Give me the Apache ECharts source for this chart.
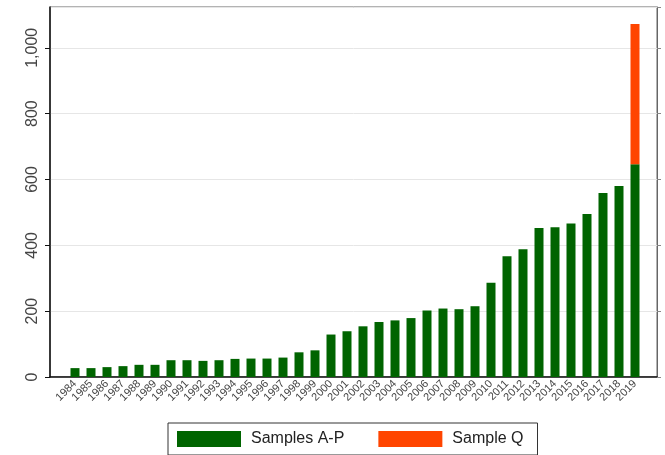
<!DOCTYPE html>
<html>
<head>
<meta charset="utf-8">
<script src="https://cdn.jsdelivr.net/npm/echarts@6/dist/echarts.min.js"></script>
<style>
html,body{margin:0;padding:0;background:#fff;}
#chart{width:665px;height:455px;}
</style>
</head>
<body>
<div id="chart"></div>
<script>
// 年份
var years = ['1984','1985','1986','1987','1988','1989','1990','1991','1992','1993','1994','1995',
    '1996','1997','1998','1999','2000','2001','2002','2003','2004','2005','2006','2007',
    '2008','2009','2010','2011','2012','2013','2014','2015','2016','2017','2018','2019'];
// Samples A-P
var samplesAP = [27,27,30,33,37,37,51,51,49,51,55,56,
    56,59,75,81,129,139,154,167,172,179,202,208,
    206,215,286,367,388,453,455,466,495,559,580,646];
// Sample Q (only 2019)
var sampleQ = [null,null,null,null,null,null,null,null,null,null,null,null,
    null,null,null,null,null,null,null,null,null,null,null,null,
    null,null,null,null,null,null,null,null,null,null,null,426];
var yTicks = [0,200,400,600,800,1000];

var font = '"Liberation Sans", Arial, sans-serif';
var yMax = 1124;

var chart = echarts.init(document.getElementById('chart'));
var option = {
    animation: false,
    textStyle: {fontFamily: font},
    legend: {
        left: 168, top: 423,
        data: ['Samples A-P','Sample Q'],
        icon: 'rect', itemWidth: 64, itemHeight: 16, itemGap: 34,
        padding: [8, 14, 8, 9],
        borderColor: '#333', borderWidth: 1,
        textStyle: {fontSize: 16, color: '#222', fontFamily: font, padding: [0,0,0,5]}
    },
    grid: [
        {left: 50, right: 8, top: 7, bottom: 78, show: true, borderColor: '#666', borderWidth: 1},
        {left: 67, right: 22, top: 7, bottom: 78}
    ],
    xAxis: [
        {
            gridIndex: 0, type: 'value', min: 0, max: 1,
            axisLine: {show: true, lineStyle: {color: '#111', width: 1.5}},
            axisTick: {show: false}, axisLabel: {show: false}, splitLine: {show: false}
        },
        {
            gridIndex: 1, type: 'category', data: years,
            axisLine: {show: false}, axisTick: {show: false},
            axisLabel: {interval: 0, rotate: 45, fontSize: 11, color: '#444', margin: 5, fontFamily: font}
        }
    ],
    yAxis: [
        {
            gridIndex: 0, type: 'value', min: 0, max: yMax, interval: 200,
            axisLine: {show: true, lineStyle: {color: '#111', width: 1.5}},
            axisTick: {show: true, length: 5, lineStyle: {color: '#111'}},
            splitLine: {show: true, lineStyle: {color: '#e6e6e6', width: 1}},
            axisLabel: {
                rotate: 90, fontSize: 16, color: '#444', margin: 9, showMaxLabel: false, fontFamily: font,
                formatter: function (v) { return yTicks.indexOf(v) >= 0 ? v.toLocaleString('en-US') : ''; }
            }
        },
        {
            gridIndex: 0, type: 'value', min: 0, max: yMax, interval: 200, position: 'right',
            axisLine: {show: true, lineStyle: {color: '#666', width: 1}},
            axisTick: {show: true, length: 4, lineStyle: {color: '#888'}},
            axisLabel: {show: false}, splitLine: {show: false}
        },
        {
            gridIndex: 1, type: 'value', min: 0, max: yMax, show: false
        }
    ],
    series: [
        {
            name: 'Samples A-P', type: 'bar', stack: 'total',
            xAxisIndex: 1, yAxisIndex: 2, barWidth: 9,
            itemStyle: {color: '#006400'},
            data: samplesAP
        },
        {
            name: 'Sample Q', type: 'bar', stack: 'total',
            xAxisIndex: 1, yAxisIndex: 2, barWidth: 9,
            itemStyle: {color: '#ff4500'},
            data: sampleQ
        }
    ]
};
chart.setOption(option);
</script>
</body>
</html>
